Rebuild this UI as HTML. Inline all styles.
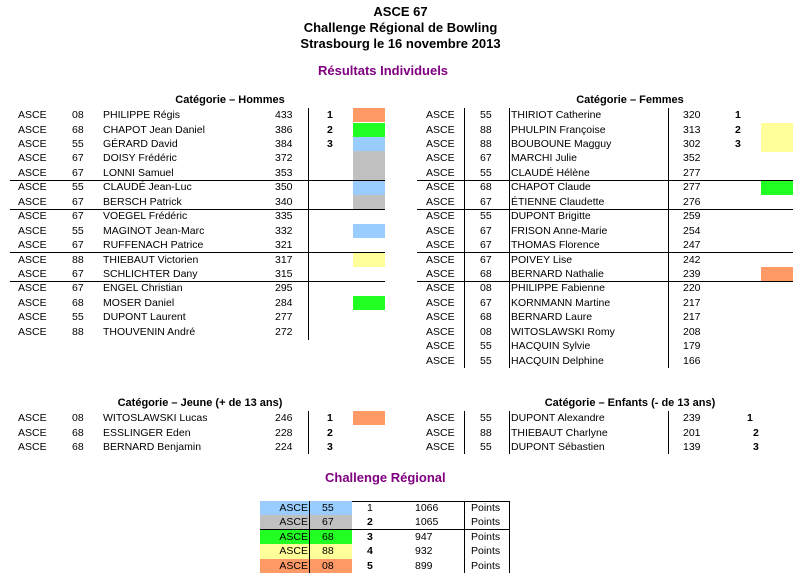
<!DOCTYPE html>
<html><head><meta charset="utf-8"><style>
body{margin:0;width:801px;height:583px;background:#fff;position:relative;overflow:hidden;font-family:"Liberation Sans",Arial,sans-serif;color:#000}
div,span{position:absolute}
.t{left:0;width:801px;text-align:center;font-weight:bold;font-size:13px}
.p{color:#800080;font-weight:bold;font-size:13px}
.h{font-weight:bold;font-size:11px;text-align:center}
.r{left:0;width:801px;height:14px;font-size:10.5px;line-height:14px}
.b{font-weight:bold}
.v{width:1px;background:#000}
.hl{height:1px;background:#000}
.bx{height:14.4px;width:32px}
.o{background:#ff9966}.g{background:#22ff22}.u{background:#99ccff}.y{background:#ffff99}.s{background:#c0c0c0}
</style></head><body>
<div class="t" style="top:4px">ASCE 67</div>
<div class="t" style="top:20px">Challenge Régional de Bowling</div>
<div class="t" style="top:36px">Strasbourg le 16 novembre 2013</div>
<div class="p" style="left:318px;top:63px">Résultats Individuels</div>

<div class="h" style="left:130px;width:200px;top:94px">Catégorie – Hommes</div>
<div class="h" style="left:530px;width:200px;top:94px">Catégorie – Femmes</div>

<!-- boxes left -->
<div class="bx o" style="left:353px;top:108px"></div>
<div class="bx g" style="left:353px;top:122.5px"></div>
<div class="bx u" style="left:353px;top:137px"></div>
<div class="bx s" style="left:353px;top:151.4px;height:29px"></div>
<div class="bx u" style="left:353px;top:180.3px"></div>
<div class="bx s" style="left:353px;top:194.7px"></div>
<div class="bx u" style="left:353px;top:223.6px"></div>
<div class="bx y" style="left:353px;top:252.5px"></div>
<div class="bx g" style="left:353px;top:295.9px"></div>
<!-- boxes right -->
<div class="bx y" style="left:761px;top:122.5px;height:29px"></div>
<div class="bx g" style="left:761px;top:180.3px"></div>
<div class="bx o" style="left:761px;top:267px"></div>

<!-- lines -->
<div class="v" style="left:308px;top:108px;height:232px"></div>
<div class="v" style="left:464px;top:108px;height:260px"></div>
<div class="v" style="left:509px;top:108px;height:260px"></div>
<div class="v" style="left:668px;top:108px;height:260px"></div>
<div class="hl" style="left:10px;width:375px;top:180px"></div>
<div class="hl" style="left:10px;width:375px;top:209px"></div>
<div class="hl" style="left:10px;width:375px;top:252px"></div>
<div class="hl" style="left:10px;width:375px;top:281px"></div>
<div class="hl" style="left:417px;width:376px;top:180px"></div>
<div class="hl" style="left:417px;width:376px;top:209px"></div>
<div class="hl" style="left:417px;width:376px;top:252px"></div>
<div class="hl" style="left:417px;width:376px;top:281px"></div>

<!-- left rows -->
<div class="r" style="top:108px"><span style="left:18px">ASCE</span><span style="left:72px">08</span><span style="left:103px">PHILIPPE Régis</span><span style="left:275px">433</span><span class="b" style="left:327px">1</span></div>
<div class="r" style="top:122.5px"><span style="left:18px">ASCE</span><span style="left:72px">68</span><span style="left:103px">CHAPOT Jean Daniel</span><span style="left:275px">386</span><span class="b" style="left:327px">2</span></div>
<div class="r" style="top:137px"><span style="left:18px">ASCE</span><span style="left:72px">55</span><span style="left:103px">GÉRARD David</span><span style="left:275px">384</span><span class="b" style="left:327px">3</span></div>
<div class="r" style="top:151.4px"><span style="left:18px">ASCE</span><span style="left:72px">67</span><span style="left:103px">DOISY Frédéric</span><span style="left:275px">372</span></div>
<div class="r" style="top:165.8px"><span style="left:18px">ASCE</span><span style="left:72px">67</span><span style="left:103px">LONNI Samuel</span><span style="left:275px">353</span></div>
<div class="r" style="top:180.3px"><span style="left:18px">ASCE</span><span style="left:72px">55</span><span style="left:103px">CLAUDÉ Jean-Luc</span><span style="left:275px">350</span></div>
<div class="r" style="top:194.7px"><span style="left:18px">ASCE</span><span style="left:72px">67</span><span style="left:103px">BERSCH Patrick</span><span style="left:275px">340</span></div>
<div class="r" style="top:209.2px"><span style="left:18px">ASCE</span><span style="left:72px">67</span><span style="left:103px">VOEGEL Frédéric</span><span style="left:275px">335</span></div>
<div class="r" style="top:223.6px"><span style="left:18px">ASCE</span><span style="left:72px">55</span><span style="left:103px">MAGINOT Jean-Marc</span><span style="left:275px">332</span></div>
<div class="r" style="top:238px"><span style="left:18px">ASCE</span><span style="left:72px">67</span><span style="left:103px">RUFFENACH Patrice</span><span style="left:275px">321</span></div>
<div class="r" style="top:252.5px"><span style="left:18px">ASCE</span><span style="left:72px">88</span><span style="left:103px">THIEBAUT Victorien</span><span style="left:275px">317</span></div>
<div class="r" style="top:267px"><span style="left:18px">ASCE</span><span style="left:72px">67</span><span style="left:103px">SCHLICHTER Dany</span><span style="left:275px">315</span></div>
<div class="r" style="top:281.4px"><span style="left:18px">ASCE</span><span style="left:72px">67</span><span style="left:103px">ENGEL Christian</span><span style="left:275px">295</span></div>
<div class="r" style="top:295.9px"><span style="left:18px">ASCE</span><span style="left:72px">68</span><span style="left:103px">MOSER Daniel</span><span style="left:275px">284</span></div>
<div class="r" style="top:310.3px"><span style="left:18px">ASCE</span><span style="left:72px">55</span><span style="left:103px">DUPONT Laurent</span><span style="left:275px">277</span></div>
<div class="r" style="top:324.8px"><span style="left:18px">ASCE</span><span style="left:72px">88</span><span style="left:103px">THOUVENIN André</span><span style="left:275px">272</span></div>

<!-- right rows -->
<div class="r" style="top:108px"><span style="left:426px">ASCE</span><span style="left:480px">55</span><span style="left:511px">THIRIOT Catherine</span><span style="left:683px">320</span><span class="b" style="left:735px">1</span></div>
<div class="r" style="top:122.5px"><span style="left:426px">ASCE</span><span style="left:480px">88</span><span style="left:511px">PHULPIN Françoise</span><span style="left:683px">313</span><span class="b" style="left:735px">2</span></div>
<div class="r" style="top:137px"><span style="left:426px">ASCE</span><span style="left:480px">88</span><span style="left:511px">BOUBOUNE Magguy</span><span style="left:683px">302</span><span class="b" style="left:735px">3</span></div>
<div class="r" style="top:151.4px"><span style="left:426px">ASCE</span><span style="left:480px">67</span><span style="left:511px">MARCHI Julie</span><span style="left:683px">352</span></div>
<div class="r" style="top:165.8px"><span style="left:426px">ASCE</span><span style="left:480px">55</span><span style="left:511px">CLAUDÉ Hélène</span><span style="left:683px">277</span></div>
<div class="r" style="top:180.3px"><span style="left:426px">ASCE</span><span style="left:480px">68</span><span style="left:511px">CHAPOT Claude</span><span style="left:683px">277</span></div>
<div class="r" style="top:194.7px"><span style="left:426px">ASCE</span><span style="left:480px">67</span><span style="left:511px">ÉTIENNE Claudette</span><span style="left:683px">276</span></div>
<div class="r" style="top:209.2px"><span style="left:426px">ASCE</span><span style="left:480px">55</span><span style="left:511px">DUPONT Brigitte</span><span style="left:683px">259</span></div>
<div class="r" style="top:223.6px"><span style="left:426px">ASCE</span><span style="left:480px">67</span><span style="left:511px">FRISON Anne-Marie</span><span style="left:683px">254</span></div>
<div class="r" style="top:238px"><span style="left:426px">ASCE</span><span style="left:480px">67</span><span style="left:511px">THOMAS Florence</span><span style="left:683px">247</span></div>
<div class="r" style="top:252.5px"><span style="left:426px">ASCE</span><span style="left:480px">67</span><span style="left:511px">POIVEY Lise</span><span style="left:683px">242</span></div>
<div class="r" style="top:267px"><span style="left:426px">ASCE</span><span style="left:480px">68</span><span style="left:511px">BERNARD Nathalie</span><span style="left:683px">239</span></div>
<div class="r" style="top:281.4px"><span style="left:426px">ASCE</span><span style="left:480px">08</span><span style="left:511px">PHILIPPE Fabienne</span><span style="left:683px">220</span></div>
<div class="r" style="top:295.9px"><span style="left:426px">ASCE</span><span style="left:480px">67</span><span style="left:511px">KORNMANN Martine</span><span style="left:683px">217</span></div>
<div class="r" style="top:310.3px"><span style="left:426px">ASCE</span><span style="left:480px">68</span><span style="left:511px">BERNARD Laure</span><span style="left:683px">217</span></div>
<div class="r" style="top:324.8px"><span style="left:426px">ASCE</span><span style="left:480px">08</span><span style="left:511px">WITOSLAWSKI Romy</span><span style="left:683px">208</span></div>
<div class="r" style="top:339.2px"><span style="left:426px">ASCE</span><span style="left:480px">55</span><span style="left:511px">HACQUIN Sylvie</span><span style="left:683px">179</span></div>
<div class="r" style="top:353.7px"><span style="left:426px">ASCE</span><span style="left:480px">55</span><span style="left:511px">HACQUIN Delphine</span><span style="left:683px">166</span></div>

<!-- Jeune / Enfants -->
<div class="h" style="left:100px;width:200px;top:397px">Catégorie – Jeune (+ de 13 ans)</div>
<div class="h" style="left:500px;width:260px;top:397px">Catégorie – Enfants (- de 13 ans)</div>
<div class="bx o" style="left:353px;top:411px"></div>
<div class="v" style="left:308px;top:411px;height:43px"></div>
<div class="v" style="left:464px;top:411px;height:43px"></div>
<div class="v" style="left:509px;top:411px;height:43px"></div>
<div class="v" style="left:668px;top:411px;height:43px"></div>
<div class="r" style="top:411px"><span style="left:18px">ASCE</span><span style="left:72px">08</span><span style="left:103px">WITOSLAWSKI Lucas</span><span style="left:275px">246</span><span class="b" style="left:327px">1</span><span style="left:426px">ASCE</span><span style="left:480px">55</span><span style="left:511px">DUPONT Alexandre</span><span style="left:683px">239</span><span class="b" style="left:747px">1</span></div>
<div class="r" style="top:425.5px"><span style="left:18px">ASCE</span><span style="left:72px">68</span><span style="left:103px">ESSLINGER Eden</span><span style="left:275px">228</span><span class="b" style="left:327px">2</span><span style="left:426px">ASCE</span><span style="left:480px">88</span><span style="left:511px">THIEBAUT Charlyne</span><span style="left:683px">201</span><span class="b" style="left:753px">2</span></div>
<div class="r" style="top:440px"><span style="left:18px">ASCE</span><span style="left:72px">68</span><span style="left:103px">BERNARD Benjamin</span><span style="left:275px">224</span><span class="b" style="left:327px">3</span><span style="left:426px">ASCE</span><span style="left:480px">55</span><span style="left:511px">DUPONT Sébastien</span><span style="left:683px">139</span><span class="b" style="left:753px">3</span></div>

<div class="p" style="left:325px;top:470px">Challenge Régional</div>

<!-- challenge table -->
<div class="u" style="left:260px;top:501px;width:92px;height:14.4px"></div>
<div class="s" style="left:260px;top:515.4px;width:92px;height:14.4px"></div>
<div class="g" style="left:260px;top:529.8px;width:92px;height:14.4px"></div>
<div class="y" style="left:260px;top:544.2px;width:92px;height:14.4px"></div>
<div class="o" style="left:260px;top:558.6px;width:92px;height:14.4px"></div>
<div class="hl" style="left:352px;width:157px;top:501px"></div>
<div class="hl" style="left:260px;width:249px;top:529px"></div>
<div class="v" style="left:309px;top:501px;height:72px"></div>
<div class="v" style="left:464px;top:501px;height:72px"></div>
<div class="v" style="left:509px;top:501px;height:72px"></div>
<div class="r" style="top:501px"><span style="left:260px;width:48px;text-align:right">ASCE</span><span style="left:322px">55</span><span style="left:367px">1</span><span style="left:415px">1066</span><span style="left:471px">Points</span></div>
<div class="r" style="top:515.4px"><span style="left:260px;width:48px;text-align:right">ASCE</span><span style="left:322px">67</span><span class="b" style="left:367px">2</span><span style="left:415px">1065</span><span style="left:471px">Points</span></div>
<div class="r" style="top:529.8px"><span style="left:260px;width:48px;text-align:right">ASCE</span><span style="left:322px">68</span><span class="b" style="left:367px">3</span><span style="left:415px">947</span><span style="left:471px">Points</span></div>
<div class="r" style="top:544.2px"><span style="left:260px;width:48px;text-align:right">ASCE</span><span style="left:322px">88</span><span class="b" style="left:367px">4</span><span style="left:415px">932</span><span style="left:471px">Points</span></div>
<div class="r" style="top:558.6px"><span style="left:260px;width:48px;text-align:right">ASCE</span><span style="left:322px">08</span><span class="b" style="left:367px">5</span><span style="left:415px">899</span><span style="left:471px">Points</span></div>
</body></html>
